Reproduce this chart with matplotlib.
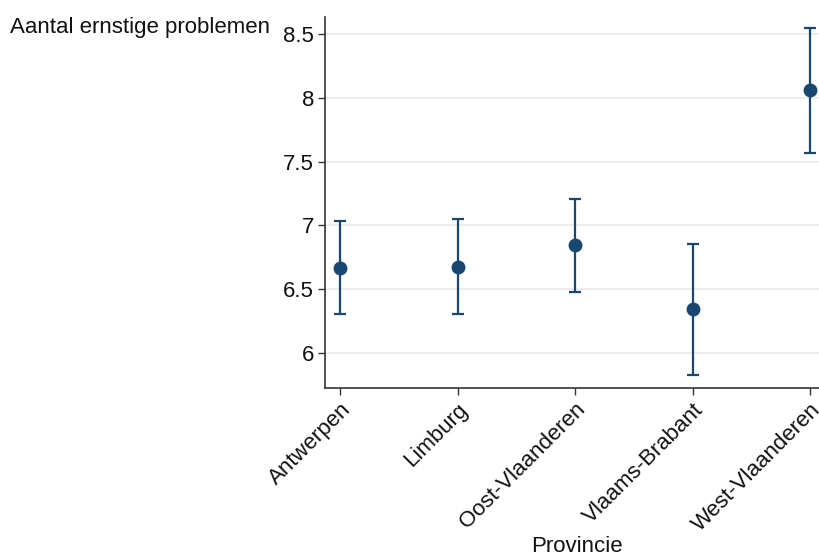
import matplotlib.pyplot as plt

provincies = ['Antwerpen', 'Limburg', 'Oost-Vlaanderen', 'Vlaams-Brabant', 'West-Vlaanderen']
gemiddelde = [6.668, 6.676, 6.846, 6.342, 8.059]
ci_laag = [6.303, 6.305, 6.478, 5.828, 7.565]
ci_hoog = [7.034, 7.050, 7.207, 6.857, 8.547]
yticks = [6, 6.5, 7, 7.5, 8, 8.5]
ytick_labels = ['6', '6.5', '7', '7.5', '8', '8.5']

plt.rcParams['font.family'] = ['Liberation Sans', 'DejaVu Sans']

kleur = '#1a476f'
x = list(range(len(provincies)))
fout_onder = [m - l for m, l in zip(gemiddelde, ci_laag)]
fout_boven = [h - m for m, h in zip(gemiddelde, ci_hoog)]

fig = plt.figure(figsize=(8.2, 5.56), dpi=100)
ax = fig.add_axes([325/820, 168/556, 495/820, 371/556])

ax.errorbar(x, gemiddelde, yerr=[fout_onder, fout_boven], fmt='o', color=kleur,
            ecolor=kleur, elinewidth=1.6, capsize=4.5, capthick=1.6, markersize=9, zorder=3)

ax.set_xlim(-0.128, 4.085)
ax.set_ylim(5.726, 8.633)
ax.set_yticks(yticks)
ax.set_yticklabels(ytick_labels, fontsize=16)
ax.set_xticks(x)
ax.set_xticklabels(provincies, rotation=45, ha='right', rotation_mode='anchor', fontsize=16)
ax.grid(axis='y', color='#eaeaea', linewidth=1.2)
ax.set_axisbelow(True)
ax.tick_params(axis='both', length=5, width=1, color='#333333', labelcolor='#111111', pad=3)

for s in ['top', 'right']:
    ax.spines[s].set_visible(False)
for s in ['left', 'bottom']:
    ax.spines[s].set_color('#333333')
    ax.spines[s].set_linewidth(1.2)

fig.text(10/820, 1 - 27/556, 'Aantal ernstige problemen', fontsize=16, va='center', ha='left', color='#111111')
fig.text(577/820, 1 - 546/556, 'Provincie', fontsize=16, va='center', ha='center', color='#111111')

fig.savefig('out.png', dpi=100)
